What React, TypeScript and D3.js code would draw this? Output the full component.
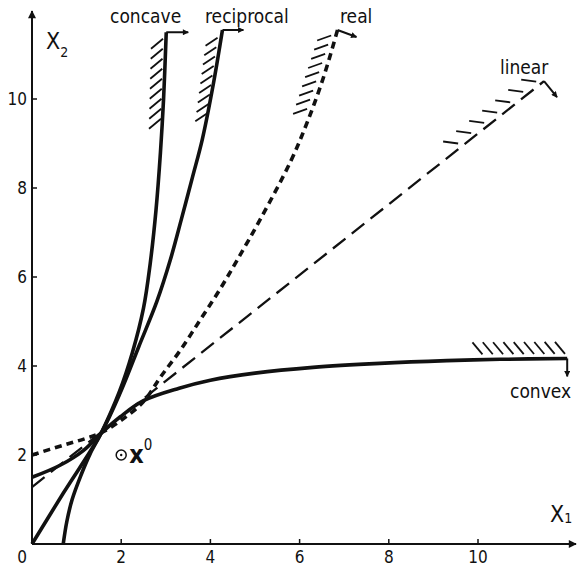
import * as d3 from 'd3';

const W = 577;
const H = 568;

const xTicks = [2, 4, 6, 8, 10];
const yTicks = [2, 4, 6, 8, 10];

// curves, [x1, x2]
const concave: [number, number][] = [[0.7, 0], [0.78, 0.5], [0.9, 1.0], [1.1, 1.55], [1.3, 2.02], [1.55, 2.49], [1.95, 3.4], [2.25, 4.3], [2.5, 5.3], [2.65, 6.3], [2.78, 7.5], [2.88, 8.8], [2.95, 10.0], [3.01, 11.5]];
const reciprocal: [number, number][] = [[0, 0], [0.7, 1.14], [1.55, 2.49], [2.0, 3.45], [2.4, 4.45], [2.8, 5.45], [3.1, 6.38], [3.35, 7.3], [3.6, 8.25], [3.82, 9.1], [4.07, 10.36], [4.27, 11.55]];
const real: [number, number][] = [[0, 2.0], [0.7, 2.22], [1.2, 2.37], [1.55, 2.5], [2.0, 2.78], [2.5, 3.2], [2.88, 3.75], [3.33, 4.36], [3.78, 5.05], [4.2, 5.7], [4.6, 6.38], [5.12, 7.3], [5.8, 8.6], [6.18, 9.5], [6.54, 10.5], [6.85, 11.55]];
const linear: [number, number][] = [[0, 1.28], [11.48, 10.4]];
const convex: [number, number][] = [[0, 1.5], [0.63, 1.77], [1.15, 2.1], [1.55, 2.49], [1.98, 2.86], [2.5, 3.22], [3.3, 3.5], [4.0, 3.68], [5.0, 3.84], [6.3, 3.97], [7.8, 4.06], [9.3, 4.12], [10.5, 4.15], [12.0, 4.17]];
const startPoint: [number, number] = [2, 2];

const x = d3.scaleLinear().domain([0, 10]).range([32, 478]);
const y = d3.scaleLinear().domain([0, 10]).range([544, 99]);

const font = '"DejaVu Sans Condensed", "DejaVu Sans", sans-serif';

const line = d3.line<[number, number]>().x(d => x(d[0])).y(d => y(d[1])).curve(d3.curveCatmullRom.alpha(0.5));

// hatching segments along the curve ends (decoration)
const hatchSpecs = [
  { from: [2.96, 9.6], to: [3.005, 11.4], n: 9, off: [-3, 2], vec: [-12, 10] },
  { from: [4.02, 9.7], to: [4.25, 11.4], n: 9, off: [-4, 1], vec: [-12, 8] },
  { from: [6.28, 9.8], to: [6.82, 11.45], n: 9, off: [-5, 1], vec: [-14, 5] },
  { from: [9.6, 8.91], to: [11.35, 10.3], n: 7, off: [-2, -4], vec: [-15, -2] },
  { from: [10.1, 4.15], to: [11.95, 4.16], n: 9, off: [0, -5], vec: [-10, -12] },
];

const arrows = [
  { at: concave[concave.length - 1], d: [22, 0] },
  { at: reciprocal[reciprocal.length - 1], d: [21, 0] },
  { at: real[real.length - 1], d: [19, 7] },
  { at: linear[linear.length - 1], d: [13, 16] },
  { at: convex[convex.length - 1], d: [0, 18] },
];

function hatchLines(s: any) {
  const out: { x1: number; y1: number; x2: number; y2: number }[] = [];
  for (let i = 0; i < s.n; i++) {
    const t = i / (s.n - 1);
    const px = x(s.from[0] + (s.to[0] - s.from[0]) * t) + s.off[0];
    const py = y(s.from[1] + (s.to[1] - s.from[1]) * t) + s.off[1];
    out.push({ x1: px + s.vec[0], y1: py + s.vec[1], x2: px, y2: py });
  }
  return out;
}

export default function App() {
  return (
    <svg width={W} height={H} style={{ position: 'absolute', left: 0, top: 0, background: '#fff' }}>
      <defs>
        <marker id="ah" viewBox="0 0 10 10" refX="9" refY="5" markerWidth="7" markerHeight="6" orient="auto" markerUnits="userSpaceOnUse">
          <path d="M0,0 L10,5 L0,10 z" fill="#111" />
        </marker>
        <marker id="axh" viewBox="0 0 10 10" refX="9" refY="5" markerWidth="14" markerHeight="8" orient="auto" markerUnits="userSpaceOnUse">
          <path d="M0,0 L10,5 L0,10 z" fill="#111" />
        </marker>
      </defs>

      {/* axes */}
      <line x1={x(0)} y1={y(0)} x2={576} y2={y(0)} stroke="#111" strokeWidth={2} markerEnd="url(#axh)" />
      <line x1={x(0)} y1={y(0)} x2={x(0)} y2={11} stroke="#111" strokeWidth={2} markerEnd="url(#axh)" />
      {xTicks.map(t => (
        <g key={'x' + t}>
          <line x1={x(t)} x2={x(t)} y1={y(0)} y2={y(0) - 5} stroke="#111" strokeWidth={1.5} />
          <text x={x(t)} y={563} textAnchor="middle" fontFamily={font} fontSize={17} fill="#111">{t}</text>
        </g>
      ))}
      <text x={x(0) - 10} y={563} textAnchor="middle" fontFamily={font} fontSize={17} fill="#111">0</text>
      {yTicks.map(t => (
        <g key={'y' + t}>
          <line x1={x(0)} x2={x(0) + 5} y1={y(t)} y2={y(t)} stroke="#111" strokeWidth={1.5} />
          <text x={27} y={y(t)} dy="0.36em" textAnchor="end" fontFamily={font} fontSize={17} fill="#111">{t}</text>
        </g>
      ))}
      <text x={46} y={49} fontFamily={font} fontSize={23} fill="#111">X<tspan fontSize={14} dy={8}>2</tspan></text>
      <text x={550} y={522} fontFamily={font} fontSize={23} fill="#111">X<tspan fontSize={14} dy={1}>1</tspan></text>

      {/* curves */}
      <path d={line(linear) || ''} fill="none" stroke="#111" strokeWidth={2.3} strokeDasharray="16 8" />
      <path d={line(real) || ''} fill="none" stroke="#111" strokeWidth={3.6} strokeDasharray="7 5" />
      <path d={line(convex) || ''} fill="none" stroke="#111" strokeWidth={3.6} />
      <path d={line(reciprocal) || ''} fill="none" stroke="#111" strokeWidth={3.6} />
      <path d={line(concave) || ''} fill="none" stroke="#111" strokeWidth={3.6} />

      {/* hatching */}
      {hatchSpecs.map((s, i) => hatchLines(s).map((h, j) => (
        <line key={`h${i}-${j}`} {...h} stroke="#111" strokeWidth={1.8} />
      )))}

      {/* arrows */}
      {arrows.map((a, i) => (
        <line key={'a' + i} x1={x(a.at[0])} y1={y(a.at[1])} x2={x(a.at[0]) + a.d[0]} y2={y(a.at[1]) + a.d[1]}
          stroke="#111" strokeWidth={2} markerEnd="url(#ah)" />
      ))}

      {/* labels */}
      <g fontFamily={font} fontSize={19} fill="#111">
        <text x={110} y={23}>concave</text>
        <text x={205} y={23}>reciprocal</text>
        <text x={340} y={23}>real</text>
        <text x={500} y={74}>linear</text>
        <text x={510} y={398}>convex</text>
      </g>

      {/* starting point */}
      <circle cx={x(startPoint[0])} cy={y(startPoint[1])} r={5} fill="none" stroke="#111" strokeWidth={1.5} />
      <circle cx={x(startPoint[0])} cy={y(startPoint[1])} r={1.2} fill="#111" />
      <text x={x(startPoint[0]) + 8} y={y(startPoint[1]) + 8} fontFamily={font} fontSize={25} fontWeight="bold" fill="#111">x<tspan fontSize={15} fontWeight="normal" dy={-13}>0</tspan></text>
    </svg>
  );
}
